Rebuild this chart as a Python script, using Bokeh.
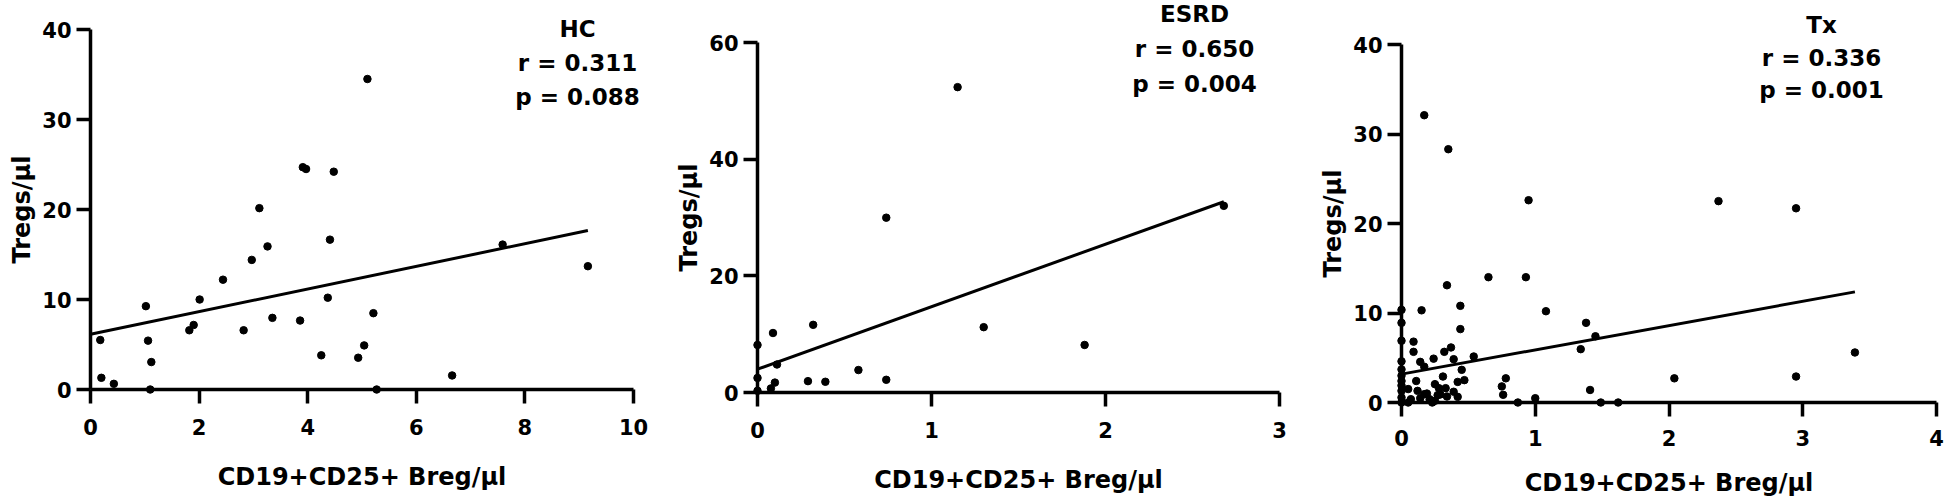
from bokeh.plotting import figure
from bokeh.layouts import row
from bokeh.models import Label, Range1d, FixedTicker
from bokeh.embed import file_html
from bokeh.resources import INLINE

# ---------------- data ----------------
hc_x = [0.18, 0.20, 0.43, 1.02, 1.06, 1.12, 1.10, 1.82, 1.90, 2.01, 2.44, 2.82, 2.97, 3.11,
        3.26, 3.35, 3.86, 3.91, 3.97, 4.25, 4.37, 4.41, 4.48, 4.93, 5.04, 5.10, 5.21, 5.27,
        6.66, 7.59, 9.16]
hc_y = [5.5, 1.3, 0.63, 9.26, 5.43, 3.05, 0.0, 6.58, 7.17, 10.0, 12.2, 6.58, 14.4, 20.15,
        15.9, 7.96, 7.66, 24.7, 24.5, 3.8, 10.2, 16.65, 24.2, 3.53, 4.9, 34.5, 8.48, 0.0,
        1.56, 16.1, 13.7]
hc_fit_x = [0.0, 9.16]
hc_fit_y = [6.13, 17.66]

esrd_x = [0.0, 0.0, 0.0, 0.077, 0.089, 0.10, 0.112, 0.29, 0.32, 0.39, 0.58, 0.74, 0.74,
          1.15, 1.30, 1.88, 2.68]
esrd_y = [8.15, 2.5, 0.3, 0.7, 10.2, 1.7, 4.8, 1.95, 11.6, 1.84, 3.85, 29.97, 2.18,
          52.35, 11.2, 8.15, 32.0]
esrd_fit_x = [0.0, 2.68]
esrd_fit_y = [4.0, 32.7]

tx_x = [0.17, 0.35, 0.95, 2.37, 2.95, 0.65, 0.93, 0.34, 0.44, 0.15, 0.0, 1.08, 0.0, 1.38,
        0.44, 1.45, 0.0, 0.09, 0.37, 1.34, 0.32, 0.09, 3.39, 0.54, 0.24, 0.39, 0.14, 0.17,
        0.45, 0.0, 0.31, 0.78, 0.47, 2.04, 2.95, 0.0, 0.11, 0.42, 0.25, 0.75, 0.28, 0.33,
        0.05, 1.41, 0.12, 0.39, 0.0, 0.76, 0.17, 0.27, 0.34, 0.42, 1.0, 0.0, 0.07, 0.21,
        0.25, 0.05, 0.23, 0.87, 1.49, 1.62, 0.0, 0.14, 0.0, 0.0, 0.0, 0.19, 0.29]
tx_y = [32.1, 28.3, 22.6, 22.5, 21.7, 14.0, 14.0, 13.1, 10.8, 10.3, 10.35, 10.2, 8.9, 8.9,
        8.2, 7.4, 6.9, 6.8, 6.15, 5.96, 5.66, 5.66, 5.59, 5.14, 4.9, 4.84, 4.54, 4.0,
        3.65, 3.7, 2.9, 2.7, 2.5, 2.7, 2.9, 2.4, 2.4, 2.3, 2.05, 1.8, 1.6, 1.6,
        1.5, 1.4, 1.3, 1.2, 1.3, 0.86, 0.93, 0.82, 0.67, 0.63, 0.48, 0.56, 0.37, 0.37,
        0.19, 0.0, 0.0, 0.0, 0.0, 0.0, 0.0, 0.48, 4.6, 3.0, 1.9, 1.0, 0.9]
tx_fit_x = [0.0, 3.39]
tx_fit_y = [3.17, 12.36]

group_names = ["HC", "ESRD", "Tx"]
r_texts = ["r = 0.311", "r = 0.650", "r = 0.336"]
p_texts = ["p = 0.088", "p = 0.004", "p = 0.001"]
x_title = "CD19+CD25+ Breg/µl"
y_title = "Tregs/µl"

hc_xticks = [0, 2, 4, 6, 8, 10]
hc_yticks = [0, 10, 20, 30, 40]
esrd_xticks = [0, 1, 2, 3]
esrd_yticks = [0, 20, 40, 60]
tx_xticks = [0, 1, 2, 3, 4]
tx_yticks = [0, 10, 20, 30, 40]

FONT = "DejaVu Sans"
FIG_H = 499       # the page template has no body margin


def panel(xs, ys, fx, fy, xticks, yticks, name, rtxt, ptxt,
          fig_left, fig_w, ax_x0, ax_x1, ax_y0, ax_y1, lab_x, lab_ys,
          xlab_standoff=15, xtitle_standoff=25):
    """fig_left/fig_w: canvas placement in window px; ax_*: window px of the
    axis ends (x=0, x=max, y=0, y=max); lab_*: window px of the annotation."""
    xmax, ymax = xticks[-1], yticks[-1]
    sx = (ax_x1 - ax_x0) / xmax
    sy = (ax_y0 - ax_y1) / ymax
    x_start = (fig_left - ax_x0) / sx
    x_end = (fig_left + fig_w - ax_x0) / sx
    y_end = ax_y0 / sy
    y_start = (ax_y0 - FIG_H) / sy

    p = figure(width=fig_w, height=FIG_H,
               x_range=Range1d(x_start, x_end), y_range=Range1d(y_start, y_end),
               min_border=0, min_border_left=0, min_border_right=0,
               min_border_top=0, min_border_bottom=0,
               output_backend="svg", toolbar_location=None)
    p.outline_line_color = None
    p.background_fill_color = "white"
    p.border_fill_color = "white"
    p.grid.visible = False

    for ax, ticks in ((p.xaxis, xticks), (p.yaxis, yticks)):
        ax.ticker = FixedTicker(ticks=ticks)
        ax.bounds = (ticks[0], ticks[-1])
        ax.fixed_location = 0
        ax.axis_line_width = 3.5
        ax.axis_line_color = "black"
        ax.major_tick_line_width = 3.5
        ax.major_tick_line_color = "black"
        ax.major_tick_out = 14
        ax.major_tick_in = 0
        ax.minor_tick_line_color = None
        ax.major_label_text_font = FONT
        ax.major_label_text_font_style = "bold"
        ax.major_label_text_font_size = "21px"
        ax.major_label_text_color = "black"
        ax.axis_label_text_font = FONT
        ax.axis_label_text_font_style = "bold"
        ax.axis_label_text_font_size = "24px"
        ax.axis_label_text_color = "black"
    p.xaxis.major_label_standoff = xlab_standoff
    p.yaxis.major_label_standoff = 5
    p.xaxis.axis_label = x_title
    p.yaxis.axis_label = y_title
    p.xaxis.axis_label_standoff = xtitle_standoff
    p.yaxis.axis_label_standoff = 3

    p.line(fx, fy, line_width=3, line_color="black")
    p.scatter(xs, ys, size=7.5, fill_color="black", line_color="black", level="overlay")

    for t, ly in zip([name, rtxt, ptxt], lab_ys):
        p.add_layout(Label(x=(lab_x - ax_x0) / sx, y=(ax_y0 - ly) / sy, text=t,
                           text_align="center", text_baseline="middle",
                           text_font=FONT, text_font_style="bold",
                           text_font_size="23px", text_color="black"))
    return p


p1 = panel(hc_x, hc_y, hc_fit_x, hc_fit_y, hc_xticks, hc_yticks,
           group_names[0], r_texts[0], p_texts[0],
           fig_left=0, fig_w=660, ax_x0=90, ax_x1=633, ax_y0=389, ax_y1=29,
           lab_x=577, lab_ys=(28, 62, 96))
p2 = panel(esrd_x, esrd_y, esrd_fit_x, esrd_fit_y, esrd_xticks, esrd_yticks,
           group_names[1], r_texts[1], p_texts[1],
           fig_left=660, fig_w=640, ax_x0=757, ax_x1=1279, ax_y0=392, ax_y1=42,
           lab_x=1194, lab_ys=(13, 48, 83))
p3 = panel(tx_x, tx_y, tx_fit_x, tx_fit_y, tx_xticks, tx_yticks,
           group_names[2], r_texts[2], p_texts[2],
           fig_left=1300, fig_w=646, ax_x0=1401, ax_x1=1936, ax_y0=402, ax_y1=44,
           lab_x=1821, lab_ys=(24, 57, 89),
           xlab_standoff=13, xtitle_standoff=20)

layout = row(p1, p2, p3)
open("out.html", "w").write(file_html(layout, INLINE))
